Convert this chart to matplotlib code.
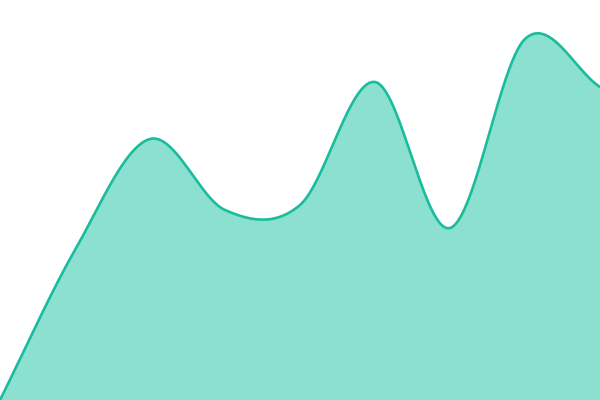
import numpy as np
import matplotlib
matplotlib.use("Agg")
import matplotlib.pyplot as plt

# data
x_vals = [0, 1, 2, 3, 4, 5, 6, 7, 8]
y_vals = [0, 150, 261, 190, 195, 318, 172, 361, 313]

LINE = "#1abc9c"
FILL = "#8be0cf"


def catmull_rom(x, y, per_seg=100):
    x = np.asarray(x, float)
    y = np.asarray(y, float)
    n = len(x)
    m = np.zeros(n)
    m[1:-1] = (y[2:] - y[:-2]) / 2.0
    m[0] = y[1] - y[0]
    m[-1] = y[-1] - y[-2]
    xs_all, ys_all = [], []
    for i in range(n - 1):
        t = np.linspace(0, 1, per_seg, endpoint=(i == n - 2))
        h00 = 2 * t ** 3 - 3 * t ** 2 + 1
        h10 = t ** 3 - 2 * t ** 2 + t
        h01 = -2 * t ** 3 + 3 * t ** 2
        h11 = t ** 3 - t ** 2
        ys_all.append(h00 * y[i] + h10 * m[i] + h01 * y[i + 1] + h11 * m[i + 1])
        xs_all.append(x[i] + t * (x[i + 1] - x[i]))
    return np.concatenate(xs_all), np.concatenate(ys_all)


fig = plt.figure(figsize=(6, 4), dpi=100)
ax = fig.add_axes([0, 0, 1, 1])
xs, ys = catmull_rom(x_vals, y_vals)
ax.fill_between(xs, 0, ys, color=FILL, linewidth=0)
ax.plot(xs, ys, color=LINE, linewidth=1.9, solid_capstyle="round")
ax.set_xlim(x_vals[0], x_vals[-1])
ax.set_ylim(0, 400)
ax.axis("off")
fig.savefig("out.png", dpi=100)
